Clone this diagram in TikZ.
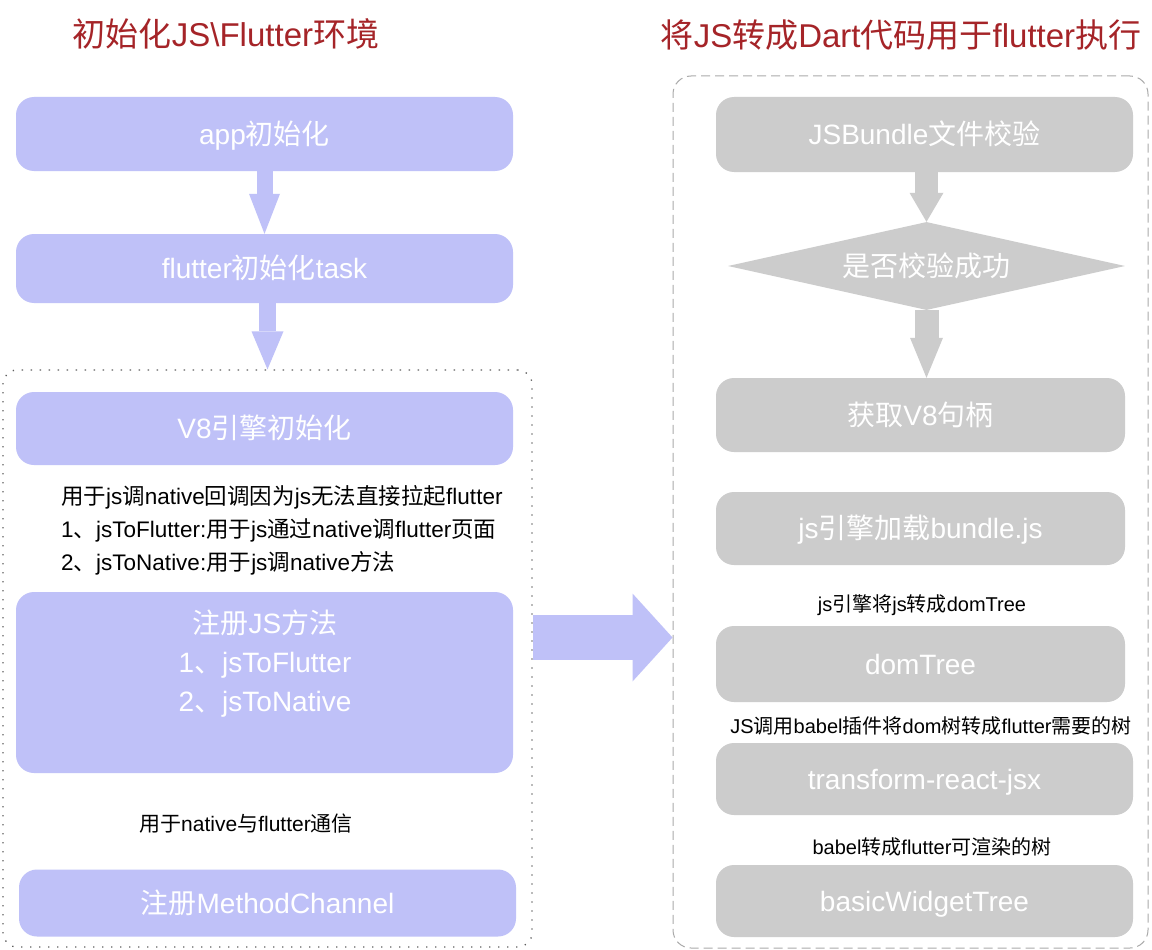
\documentclass[tikz,border=0pt]{standalone}
\usepackage{fontspec}
\setmainfont{Liberation Sans}
\newfontfamily\cjkfont{Noto Sans CJK SC}
\newfontfamily\latfont{Liberation Sans}
\XeTeXinterchartokenstate=1
\newXeTeXintercharclass\CJKcls
\makeatletter
\count@="3000
\loop\XeTeXcharclass\count@=\CJKcls\ifnum\count@<"303F \advance\count@\@ne\repeat
\count@="4E00
\loop\XeTeXcharclass\count@=\CJKcls\ifnum\count@<"9FFF \advance\count@\@ne\repeat
\count@="FF00
\loop\XeTeXcharclass\count@=\CJKcls\ifnum\count@<"FFEF \advance\count@\@ne\repeat
\makeatother
\XeTeXinterchartoks 0 \CJKcls = {\cjkfont}
\XeTeXinterchartoks 4095 \CJKcls = {\cjkfont}
\XeTeXinterchartoks \CJKcls 0 = {\latfont}
\XeTeXinterchartoks 4095 0 = {\latfont}
\usetikzlibrary{arrows.meta,shapes.geometric,calc}
\definecolor{lav}{RGB}{191,193,248}
\definecolor{gry}{RGB}{204,204,204}
\definecolor{ttlc}{RGB}{165,36,40}
\definecolor{dotc}{RGB}{95,95,95}
\definecolor{dashc}{RGB}{170,170,170}
\tikzset{
  boxtxt/.style={text=white, font=\fontsize{28}{33}\selectfont, text height=24pt, text depth=3.5pt},
  lbox/.style={rectangle, rounded corners=18pt, fill=lav, inner sep=0pt, boxtxt},
  gbox/.style={rectangle, rounded corners=18pt, fill=gry, inner sep=0pt, boxtxt},
  ttl/.style={text=ttlc, font=\fontsize{33}{39}\selectfont, text height=28pt, text depth=3.5pt, inner sep=0pt},
  llab/.style={text=black, font=\fontsize{22.5}{33}\selectfont, inner sep=0pt},
  rlab/.style={text=black, font=\fontsize{20}{24}\selectfont, text height=17pt, text depth=2pt, inner sep=0pt},
  lflow/.style={draw=lav, line width=#1},
  gflow/.style={draw=gry, line width=#1},
}
\begin{document}
\begin{tikzpicture}[x=1pt,y=-1pt]
\useasboundingbox (0,0) rectangle (1152,950);
\fill[white] (0,0) rectangle (1152,950);

% containers
\node[draw=dotc, line width=1.3pt, dash pattern=on 1.3pt off 7.7pt, rounded corners=14pt,
      minimum width=529pt, minimum height=577pt, inner sep=0pt] (grp) at (267.5,658.5) {};
\node[draw=dashc, line width=1pt, dash pattern=on 9pt off 5pt, rounded corners=18pt,
      minimum width=475pt, minimum height=872pt, inner sep=0pt] (rgrp) at (910.5,512) {};

% titles
\node[ttl] (t1) at (226,34) {初始化JS\textbackslash Flutter环境};
\node[ttl] (t2) at (901,35) {将JS转成Dart代码用于flutter执行};

% left column
\node[lbox, minimum width=497pt, minimum height=74pt] (app) at (264.5,134) {app初始化};
\node[lbox, minimum width=497pt, minimum height=69pt] (flutter) at (264.5,268.5) {flutter初始化task};
\node[lbox, minimum width=497pt, minimum height=73pt] (v8) at (264.5,428.5) {V8引擎初始化};
\node[llab, align=left, anchor=west] (lab1) at (61,530)
  {用于js调native回调因为js无法直接拉起flutter\\1、jsToFlutter:用于js通过native调flutter页面\\2、jsToNative:用于js调native方法};
\node[lbox, minimum width=497pt, minimum height=181pt] (reg) at (264.5,682.5) {};
\node[text=white, font=\fontsize{28}{39}\selectfont, align=center, inner sep=0pt] (regtxt) at (265,664)
  {注册JS方法\\1、jsToFlutter\\2、jsToNative};
\node[rlab, font=\fontsize{21}{25}\selectfont, text height=18pt, text depth=2pt] (lab2) at (246,823) {用于native与flutter通信};
\node[lbox, minimum width=497pt, minimum height=67pt] (mc) at (267.5,903) {注册MethodChannel};

% right column
\node[gbox, minimum width=417pt, minimum height=75pt] (jsb) at (924.5,134.5) {JSBundle文件校验};
\node[diamond, aspect=4.51, fill=gry, inner sep=0pt, minimum width=397pt, minimum height=88pt, boxtxt] (dia) at (926.5,266) {是否校验成功};
\node[gbox, minimum width=409pt, minimum height=74pt] (v8h) at (920.5,415) {获取V8句柄};
\node[gbox, minimum width=409pt, minimum height=73pt] (load) at (920.5,528.5) {js引擎加载bundle.js};
\node[rlab] (l1) at (922,604) {js引擎将js转成domTree};
\node[gbox, minimum width=409pt, minimum height=76pt] (dom) at (920.5,664) {domTree};
\node[rlab] (l2) at (931,726) {JS调用babel插件将dom树转成flutter需要的树};
\node[gbox, minimum width=417pt, minimum height=72pt] (trx) at (924.5,779) {transform-react-jsx};
\node[rlab] (l3) at (932,847) {babel转成flutter可渲染的树};
\node[gbox, minimum width=417pt, minimum height=72pt] (bwt) at (924.5,901) {basicWidgetTree};

% arrows
\draw[lflow=16pt, -{Triangle[width=31pt,length=40pt,line width=0pt]}] (app.south) -- (flutter.north);
\draw[lflow=17pt, -{Triangle[width=32pt,length=38pt,line width=0pt]}] (flutter.south -| grp.north) -- (grp.north);
\draw[gflow=23pt, -{Triangle[width=34pt,length=29pt,line width=0pt]}] (dia.north |- jsb.south) -- (dia.north);
\draw[gflow=24pt, -{Triangle[width=33pt,length=40pt,line width=0pt]}] (dia.south) -- (dia.south |- v8h.north);
\coordinate (ay) at (0,637.5);
\draw[lflow=45pt, -{Triangle[width=88pt,length=40pt,line width=0pt]}] (grp.east |- ay) -- (rgrp.west |- ay);
\end{tikzpicture}
\end{document}
